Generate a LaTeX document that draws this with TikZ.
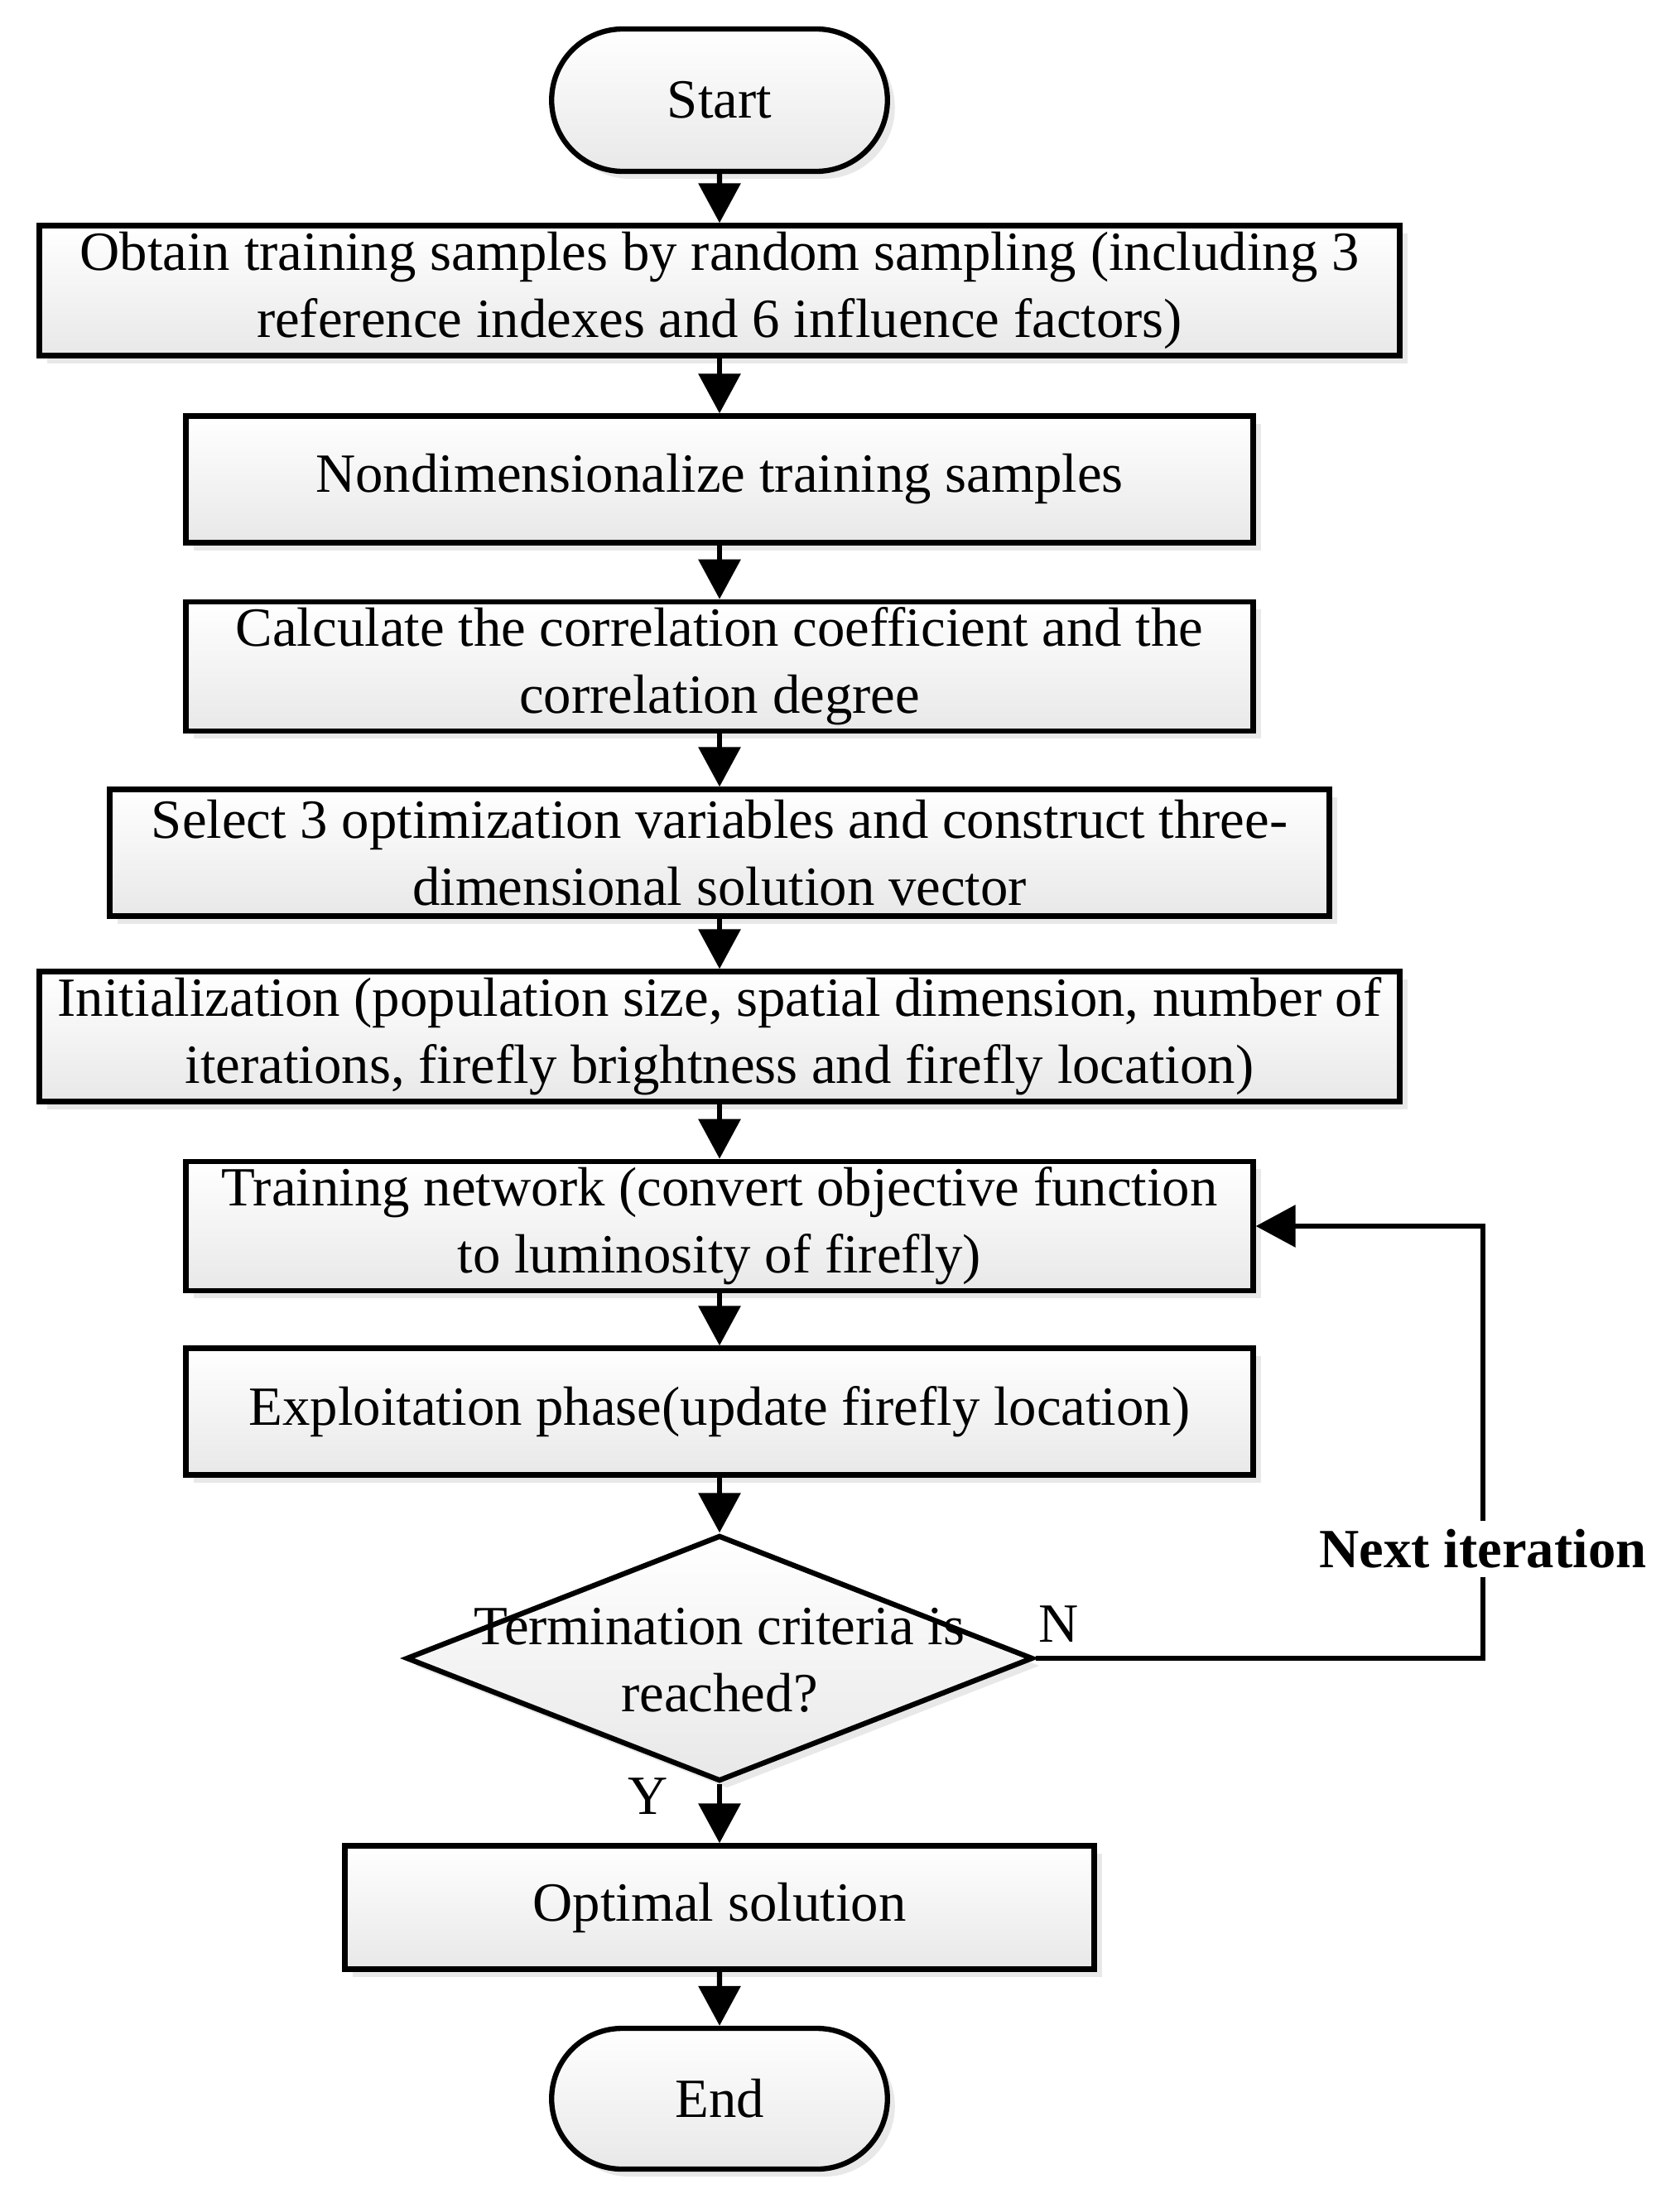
\documentclass[tikz,border=0pt]{standalone}
\usepackage{fontspec}
\setmainfont{Liberation Serif}
\usepackage{tikz}
\usetikzlibrary{arrows.meta,shapes.geometric,shapes.misc,shadows}

\begin{document}
\begin{tikzpicture}[
  font=\fontsize{19}{23}\selectfont,
  line width=1.8pt,
  >={Triangle[length=0.48cm,width=0.5cm]},
  proc/.style={draw,rectangle,align=center,minimum height=1.53cm,inner sep=2pt,
    top color=white,bottom color=gray!18,
    drop shadow={opacity=0.18,shadow xshift=0.09cm,shadow yshift=-0.09cm}},
  term/.style={draw,rounded rectangle,minimum width=4.29cm,minimum height=1.72cm,
    top color=white,bottom color=gray!18,
    drop shadow={opacity=0.18,shadow xshift=0.09cm,shadow yshift=-0.09cm}},
  dec/.style={draw,diamond,inner sep=0pt,minimum width=7.57cm,minimum height=2.97cm,
    top color=white,bottom color=gray!18,
    drop shadow={opacity=0.18,shadow xshift=0.09cm,shadow yshift=-0.09cm}}]
\useasboundingbox (0,0) rectangle (20.28,-26.67);
% Nodes
\node[term] (start) at (8.69,-1.21) {Start};
\node[proc,minimum width=16.43cm,minimum height=1.57cm] (samp) at (8.69,-3.51)
  {Obtain training samples by random sampling (including 3\\reference indexes and 6 influence factors)};
\node[proc,minimum width=12.89cm] (nondim) at (8.69,-5.79) {Nondimensionalize training samples};
\node[proc,minimum width=12.89cm] (corr) at (8.69,-8.05)
  {Calculate the correlation coefficient and the\\correlation degree};
\node[proc,minimum width=14.73cm] (sel) at (8.69,-10.30)
  {Select 3 optimization variables and construct three-\\dimensional solution vector};
\node[proc,minimum width=16.43cm,minimum height=1.57cm] (init) at (8.69,-12.52)
  {Initialization (population size, spatial dimension, number of\\iterations, firefly brightness and firefly location)};
\node[proc,minimum width=12.89cm] (train) at (8.69,-14.81)
  {Training network (convert objective function\\to luminosity of firefly)};
\node[proc,minimum width=12.89cm] (expl) at (8.69,-17.05)
  {Exploitation phase(update firefly location)};
\node[dec] (crit) at (8.69,-20.03) {};
\node[align=center] (critt) at (8.69,-20.05) {Termination criteria is\\reached?};
\node[proc,minimum width=9.05cm,minimum height=1.49cm] (opt) at (8.69,-23.04) {Optimal solution};
\node[term,minimum height=1.70cm] (end) at (8.69,-25.35) {End};
% Arrows
\draw[->] (start) -- (samp);
\draw[->] (samp) -- (nondim);
\draw[->] (nondim) -- (corr);
\draw[->] (corr) -- (sel);
\draw[->] (sel) -- (init);
\draw[->] (init) -- (train);
\draw[->] (train) -- (expl);
\draw[->] (expl) -- (crit);
\draw[->] (crit) -- (opt);
\draw[->] (opt) -- (end);
% Loop back
\coordinate (cr) at (17.91,-20.03);
\coordinate (tr) at (17.91,-14.81);
\draw[->] (crit.east) -- (cr) -- (tr) -- (train.east);
\node[fill=white,inner sep=3pt,font=\fontsize{19}{23}\selectfont\bfseries] (nxt) at (17.91,-18.71) {Next iteration};
\node (no) at (12.79,-19.62) {N};
\node (yes) at (7.83,-21.70) {Y};
\end{tikzpicture}
\end{document}
